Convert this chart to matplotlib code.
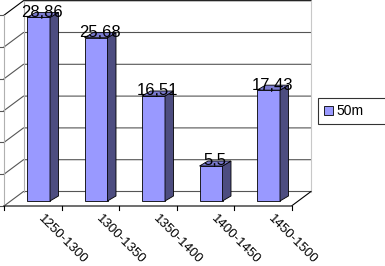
import matplotlib
matplotlib.use("Agg")
import matplotlib.pyplot as plt
from matplotlib.patches import Polygon

plt.rcParams['font.family'] = ['Liberation Sans', 'DejaVu Sans']

categories = ["1250-1300", "1300-1350", "1350-1400", "1400-1450", "1450-1500"]
values = [28.86, 25.68, 16.51, 5.5, 17.43]
value_labels = ["28,86", "25,68", "16,51", "5,5", "17,43"]
series_name = "50m"
y_ticks = [0, 5, 10, 15, 20, 25, 30]

FRONT = '#9999ff'
SIDE = '#4d4d80'
TOP = '#7b7bd0'

# layout, in pixels of a 385x266 picture
W, H = 385, 266
cx0, cstep = 38.5, 57.5     # first category centre, category spacing
y0px, ypx = 201.0, 6.36     # bar base line, pixels per unit

fig = plt.figure(figsize=(W / 100, H / 100), dpi=100)
ax = fig.add_axes([0, 0, 1, 1])
ax.set_xlim(-cx0 / cstep, (W - cx0) / cstep)
ax.set_ylim((y0px - H) / ypx, y0px / ypx)
ax.axis('off')

# frame of the 3d box
fx0 = (4 - cx0) / cstep
fx1 = (291.5 - cx0) / cstep
fy0 = (y0px - 206) / ypx
ddx = 19.5 / cstep
ddy = 14.5 / ypx
top = y_ticks[-1]

for v in y_ticks:
    col = 'black' if v in (top,) else '#555555'
    ax.plot([fx0, fx0 + ddx, fx1 + ddx], [fy0 + v, fy0 + v + ddy, fy0 + v + ddy],
            color=col, lw=0.8, zorder=1)
    ax.plot([fx0 - 0.08, fx0], [fy0 + v, fy0 + v], color='#555555', lw=0.8, zorder=1)

ax.plot([fx0, fx0], [fy0, fy0 + top], color='#b0b0b0', lw=0.8, zorder=1)
ax.plot([fx0 + ddx, fx0 + ddx], [fy0 + ddy, fy0 + ddy + top], color='#b0b0b0', lw=0.8, zorder=1)
ax.plot([fx1 + ddx, fx1 + ddx], [fy0 + ddy, fy0 + ddy + top], color='#c8c8c8', lw=0.8, zorder=1)
ax.plot([fx0, fx1, fx1 + ddx], [fy0, fy0, fy0 + ddy], color='black', lw=0.8, zorder=1)
for k in range(len(categories) + 1):
    tx = fx0 + k * (fx1 - fx0) / len(categories)
    ax.plot([tx, tx], [fy0, fy0 - 0.65], color='black', lw=0.8, zorder=1)

# bars
x = list(range(len(categories)))
bw = 23 / cstep
bdx = 8.5 / cstep
bdy = 5.0 / ypx
bars = ax.bar(x, values, width=bw, color=FRONT, edgecolor='black', lw=0.6,
              label=series_name, zorder=3)
for xi, v in zip(x, values):
    r = xi + bw / 2
    l = xi - bw / 2
    ax.add_patch(Polygon([(r, 0), (r + bdx, bdy), (r + bdx, v + bdy), (r, v)],
                         closed=True, fc=SIDE, ec='black', lw=0.6, zorder=3))
    ax.add_patch(Polygon([(l, v), (r, v), (r + bdx, v + bdy), (l + bdx, v + bdy)],
                         closed=True, fc=TOP, ec='black', lw=0.6, zorder=3))

for xi, v, t in zip(x, values, value_labels):
    ax.text(xi + 0.064, v + 0.1, t, ha='center', va='baseline', fontsize=12, zorder=5)

for xi, c in zip(x, categories):
    ax.text(xi + 0.03, fy0 - 1.7, c, rotation=-45, rotation_mode='anchor',
            ha='left', va='center', fontsize=9.5)

leg = ax.legend(loc='upper left', mode='expand',
                bbox_to_anchor=(318 / W, 1 - 123 / H, (W - 316) / W, 25 / H),
                bbox_transform=fig.transFigure, fancybox=False, frameon=True,
                handlelength=0.6, handleheight=0.6, handletextpad=0.3,
                borderpad=0.45, borderaxespad=0, fontsize=10)
leg.get_frame().set_edgecolor('black')
leg.get_frame().set_linewidth(0.8)

fig.savefig('out.png', dpi=100)
